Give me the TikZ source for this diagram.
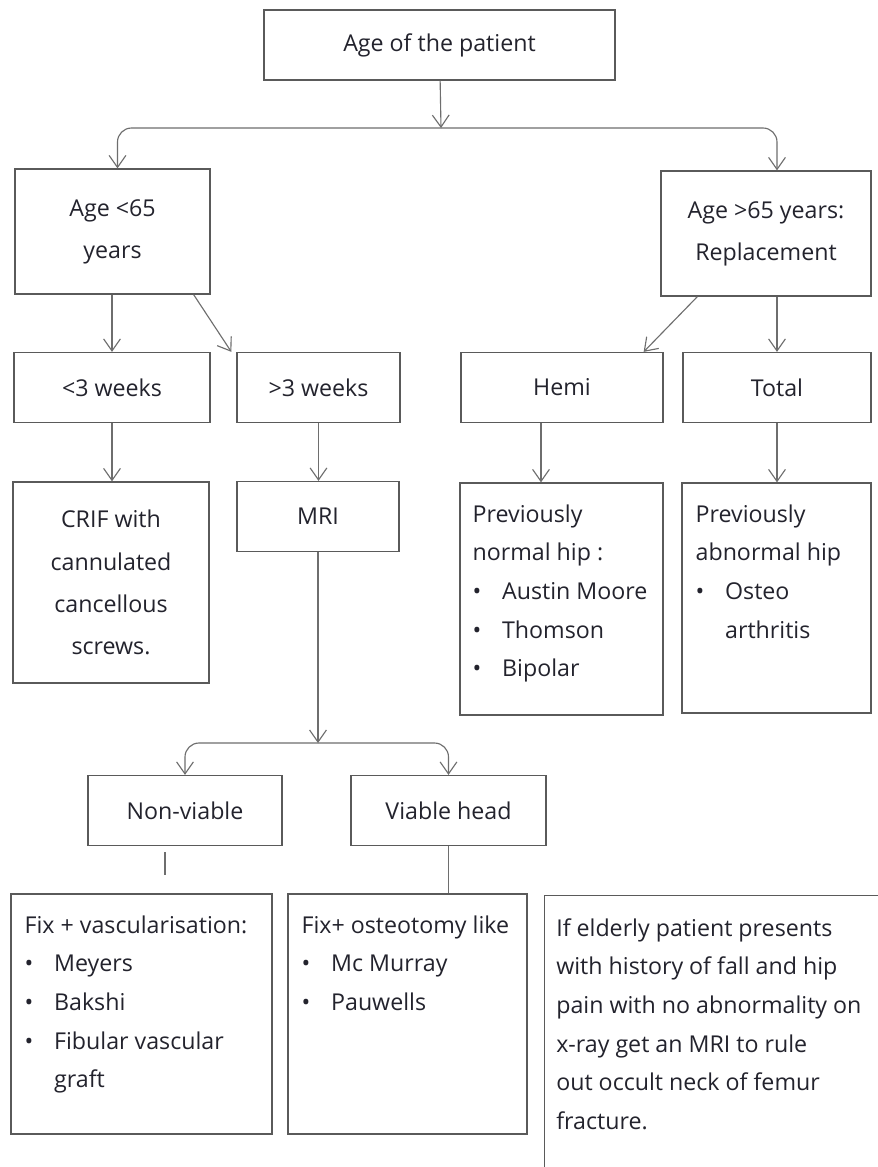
\documentclass[tikz,border=0pt]{standalone}
\usepackage{fontspec}
\setmainfont{Open Sans}
\usepackage{tikz}
\usetikzlibrary{arrows.meta,calc,positioning}
\definecolor{inkdark}{RGB}{35,35,45}
\definecolor{boxgray}{RGB}{90,90,90}
\definecolor{linegray}{RGB}{110,110,110}
\newcommand{\bul}{\makebox[21pt][l]{\textbullet}}

\begin{document}
\begin{tikzpicture}[x=0.025cm,y=-0.025cm,
  >={Straight Barb[length=3mm,width=4.2mm]},
  box/.style={draw=boxgray,line width=0.9pt,text=inkdark,align=center,
    font=\fontsize{16.5}{30}\selectfont,minimum height=1.75cm,inner sep=0pt},
  frame/.style={draw=boxgray,line width=0.9pt,inner sep=0pt},
  txt/.style={text=inkdark,align=left,anchor=north west,inner sep=0pt,
    font=\fontsize{16.5}{27.5}\selectfont},
  link/.style={draw=linegray,line width=0.8pt},
  arr/.style={link,->},
  split/.style={arr,rounded corners=0.35cm}]
\fill[white] (0,0) rectangle (877,1167);
\useasboundingbox (0,0) rectangle (877,1167);

% ---------- 年龄 ----------
\node[box,minimum width=8.775cm] (age) at (439.5,45) {Age of the patient};
\coordinate (agesplit) at (441,128);
\node[box,minimum width=4.875cm,minimum height=3.125cm] (young) at (112.5,231.5) {Age <65\\years};
\node[box,minimum width=5.25cm,minimum height=3.125cm] (old) at (766,233.5) {Age >65 years:\\Replacement};
\draw[arr] (age) -- (agesplit);
\draw[split] (agesplit) -| ([shift={(5,0)}]young.north);
\draw[split] (agesplit) -| ([shift={(11,0)}]old.north);

% ---------- 第二层 ----------
\foreach \name/\x/\w/\txt in {lt3/112/4.9/{<3 weeks},gt3/318.5/4.075/{>3 weeks},
    hemi/562/5.05/Hemi,total/777/4.7/Total}
  \node[box,minimum width=\w cm] (\name) at (\x,387.5) {\txt};
\draw[arr] (young.south -| lt3.north) -- (lt3.north);
\draw[arr] ([shift={(-17,0)}]young.south east) -- ([shift={(-5,0)}]gt3.north west);
\draw[arr] ([shift={(37,0)}]old.south west) -- ([shift={(-20,0)}]hemi.north east);
\draw[arr] (old.south -| total.north) -- (total.north);

% ---------- 第三层 ----------
\node[box,minimum width=4.9cm,minimum height=5.025cm] (crif) at (111,582.5)
  {CRIF with\\cannulated\\cancellous\\screws.};
\node[box,minimum width=4.05cm] (mri) at (318,516.5) {MRI};
\node[frame,minimum width=5.075cm,minimum height=5.8cm] (hemilist) at (561.5,599) {};
\node[frame,minimum width=4.725cm,minimum height=5.75cm] (totallist) at (776.5,598) {};
\node[txt] (hemitext) at ([shift={(13,22)}]hemilist.north west)
  {Previously\\normal hip :\\\bul Austin Moore\\\bul Thomson\\\bul Bipolar};
\node[txt] (totaltext) at ([shift={(14,22)}]totallist.north west)
  {Previously\\abnormal hip\\\bul Osteo\\\phantom{\bul}arthritis};
\coordinate (hemidrop) at ([shift={(-21,0)}]hemi.south);
\draw[arr] (lt3.south) -- (lt3.south |- crif.north);
\draw[arr] (gt3.south) -- (gt3.south |- mri.north);
\draw[arr] (hemidrop) -- (hemidrop |- hemilist.north);
\draw[arr] (total.south) -- (total.south |- totallist.north);

% ---------- MRI 分支 ----------
\coordinate (mrisplit) at (318,743);
\node[box,minimum width=4.85cm] (nonviable) at (185,810.5) {Non-viable};
\node[box,minimum width=4.875cm] (viable) at (448.5,810.5) {Viable head};
\draw[arr] (mri) -- (mrisplit);
\draw[split] (mrisplit) -| (nonviable.north);
\draw[split] (mrisplit) -| (viable.north);

% ---------- 治疗 ----------
\node[frame,minimum width=6.525cm,minimum height=6cm] (fixvasc) at (141.5,1014) {};
\node[frame,minimum width=5.975cm,minimum height=6cm] (fixost) at (407.5,1014) {};
\node[txt] (fixvasctext) at ([shift={(14,22)}]fixvasc.north west)
  {Fix + vascularisation:\\\bul Meyers\\\bul Bakshi\\\bul Fibular vascular\\\phantom{\bul}graft};
\node[txt] (fixosttext) at ([shift={(14,22)}]fixost.north west)
  {Fix+ osteotomy like\\\bul Mc Murray\\\bul Pauwells};
\draw[link] ([shift={(-20,6)}]nonviable.south) -- ++(0,23);
\draw[link] (viable.south) -- (viable.south |- fixost.north);

% 右下角注释框（超出页面部分被裁掉）
\node[frame,anchor=north west,minimum width=9cm,minimum height=8cm] (note) at (544,895) {};
\node[txt] (notetext) at ([shift={(12,23)}]note.north west)
  {If elderly patient presents\\with history of fall and hip\\pain with no abnormality on\\x-ray get an MRI to rule\\out occult neck of femur\\fracture.};
\end{tikzpicture}
\end{document}
